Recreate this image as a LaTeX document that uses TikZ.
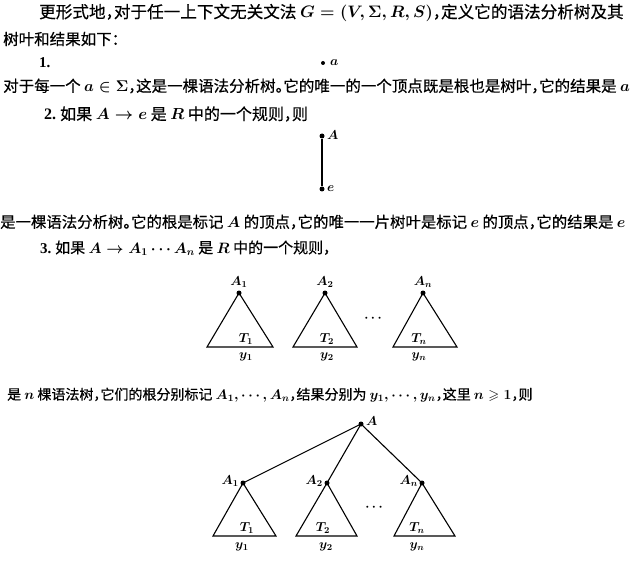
\RequirePackage{fix-cm}
\documentclass[tikz,border=0pt]{standalone}
\usepackage{amssymb}
\usepackage{fontspec}
\setmainfont{Noto Sans CJK SC}[RawFeature=+halt,FakeBold=0.5]
\newfontfamily\latserif{Liberation Serif}
\begin{document}
\begin{tikzpicture}[x=1pt,y=-1pt,
  txt/.style={anchor=west,inner sep=0pt,font=\fontsize{15.5}{18}\selectfont\boldmath},
  num/.style={anchor=west,inner sep=0pt,font=\latserif\bfseries\fontsize{15}{18}\selectfont},
  dotn/.style={circle,fill=black,inner sep=0pt,minimum size=5pt},
  lbl/.style={inner sep=0pt,font=\fontsize{13}{15}\selectfont\boldmath},
  tri/.style={line width=1.1pt,line join=miter},
  edge/.style={line width=1.1pt}]
\useasboundingbox (0,0) rectangle (636,561);
% text lines
\node[txt,font=\fontsize{16.6}{18}\selectfont\boldmath] (l1) at (39,13) {更形式地，对于任一上下文无关文法 $G=(V,\Sigma,R,S)$，定义它的语法分析树及其};
\node[txt] (l2) at (3,39) {树叶和结果如下：};
\node[num] (n1) at (39,63) {1.};
\node[dotn,minimum size=4pt] (pa) at (323,63) {};
\node[lbl,anchor=west] (pal) at (330,63) {$a$};
\node[txt] (l4) at (3,86) {对于每一个 $a\in\Sigma$，这是一棵语法分析树。它的唯一的一个顶点既是根也是树叶，它的结果是 $a$};
\node[txt,font=\fontsize{16}{18}\selectfont\boldmath] (l5) at (44,114) {\latserif\bfseries 2.\ \normalfont 如果 $A\to e$ 是 $R$ 中的一个规则，则};
% tree A -> e
\node[dotn] (ta) at (322,136) {};
\node[dotn] (te) at (322,189) {};
\node[lbl,anchor=west] at (327,135) {$A$};
\node[lbl,anchor=west] at (327,189) {$e$};
\draw[edge] (ta) -- (te);
\node[txt,font=\fontsize{15.4}{18}\selectfont\boldmath] (l6) at (0,222) {是一棵语法分析树。它的根是标记 $A$ 的顶点，它的唯一一片树叶是标记 $e$ 的顶点，它的结果是 $e$};
\node[txt,font=\fontsize{15}{18}\selectfont\boldmath] (l7) at (40,248) {\latserif\bfseries 3.\ \normalfont 如果 $A\to A_1\cdots A_n$ 是 $R$ 中的一个规则，};
% three separate trees
\node[dotn] (u1) at (239,293) {};
\node[dotn] (u2) at (325,293) {};
\node[dotn] (un) at (423,293) {};
\node[lbl] at (239,282) {$A_1$};
\node[lbl] at (325,282) {$A_2$};
\node[lbl] at (423,282) {$A_n$};
\coordinate (u1l) at (207,347); \coordinate (u1r) at (273,347);
\coordinate (u2l) at (293,347); \coordinate (u2r) at (357,347);
\coordinate (unl) at (393,347); \coordinate (unr) at (457,347);
\draw[tri] (u1.center) -- (u1l) -- (u1r) -- cycle;
\draw[tri] (u2.center) -- (u2l) -- (u2r) -- cycle;
\draw[tri] (un.center) -- (unl) -- (unr) -- cycle;
\node[lbl] at (246,339) {$T_1$};
\node[lbl] at (327,339) {$T_2$};
\node[lbl] at (419,339) {$T_n$};
\node[lbl] at (246,357) {$y_1$};
\node[lbl] at (327,357) {$y_2$};
\node[lbl] at (419,357) {$y_n$};
\node[lbl] at (373,318) {$\cdots$};
\node[txt,font=\fontsize{14}{18}\selectfont\boldmath] (l8) at (7,395) {是 $n$ 棵语法树，它们的根分别标记 $A_1,\cdots,A_n$，结果分别为 $y_1,\cdots,y_n$，这里 $n\geqslant 1$，则};
% combined tree
\node[dotn] (r) at (361,424) {};
\node[lbl,anchor=west] at (366,421) {$A$};
\node[dotn] (v1) at (243,483) {};
\node[dotn] (v2) at (327,483) {};
\node[dotn] (vn) at (422,483) {};
\node[lbl,anchor=east] at (239,481) {$A_1$};
\node[lbl,anchor=east] at (323,481) {$A_2$};
\node[lbl,anchor=east] at (418,481) {$A_n$};
\draw[edge] (r.center) -- (v1.center);
\draw[edge] (r.center) -- (v2.center);
\draw[edge] (r.center) -- (vn.center);
\coordinate (v1l) at (213,536); \coordinate (v1r) at (276,536);
\coordinate (v2l) at (296,536); \coordinate (v2r) at (357,536);
\coordinate (vnl) at (394,536); \coordinate (vnr) at (455,536);
\draw[tri] (v1.center) -- (v1l) -- (v1r) -- cycle;
\draw[tri] (v2.center) -- (v2l) -- (v2r) -- cycle;
\draw[tri] (vn.center) -- (vnl) -- (vnr) -- cycle;
\node[lbl] at (247,528) {$T_1$};
\node[lbl] at (323,528) {$T_2$};
\node[lbl] at (417,528) {$T_n$};
\node[lbl] at (242,547) {$y_1$};
\node[lbl] at (326,547) {$y_2$};
\node[lbl] at (417,547) {$y_n$};
\node[lbl] at (374,507) {$\cdots$};
\end{tikzpicture}
\end{document}
